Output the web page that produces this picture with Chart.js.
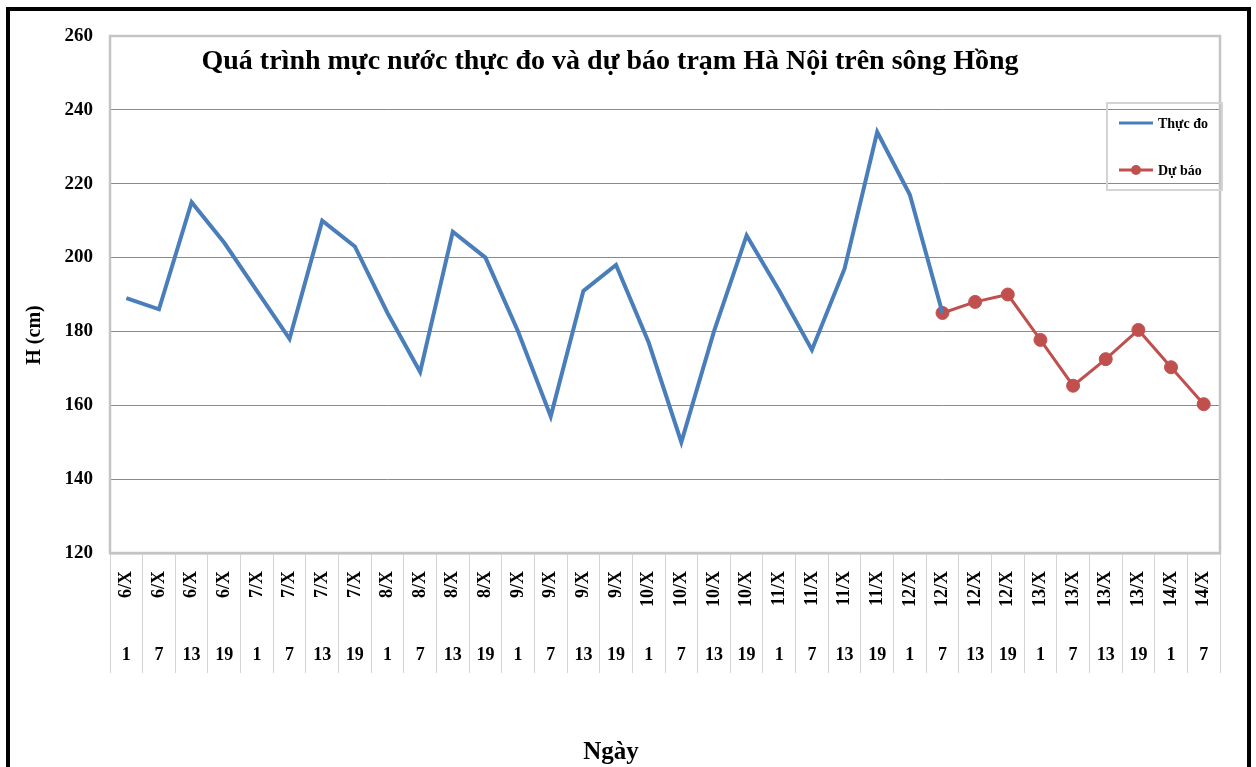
<!DOCTYPE html>
<html>
<head>
<meta charset="utf-8">
<script src="https://cdn.jsdelivr.net/npm/chart.js@4.4.1/dist/chart.umd.min.js"></script>
<style>
  html, body { margin:0; padding:0; background:#fff; }
  body { width:1256px; height:767px; position:relative; overflow:hidden; }
  #frame { position:absolute; left:6px; top:7px; width:1237px; height:800px; border:4px solid #000; box-sizing:content-box; }
  canvas#c { position:absolute; left:0; top:0; }
  .t { position:absolute; font-family:"Liberation Serif","Times New Roman",serif; font-weight:bold; color:#000; white-space:nowrap; }
  #title { left:610px; top:60px; transform:translate(-50%,-50%); font-size:28px; }
  #ytitle { left:33px; top:335px; transform:translate(-50%,-50%) rotate(-90deg); font-size:20px; }
  #xtitle { left:611px; top:751px; transform:translate(-50%,-50%); font-size:25px; }
</style>
</head>
<body>
<canvas id="c" width="1256" height="767"></canvas>
<div id="frame"></div>
<div class="t" id="title">Quá trình mực nước thực đo và dự báo trạm Hà Nội trên sông Hồng</div>
<div class="t" id="ytitle">H (cm)</div>
<div class="t" id="xtitle">Ngày</div>
<script>
const dates = ['6/X','6/X','6/X','6/X','7/X','7/X','7/X','7/X','8/X','8/X','8/X','8/X',
  '9/X','9/X','9/X','9/X','10/X','10/X','10/X','10/X','11/X','11/X','11/X','11/X',
  '12/X','12/X','12/X','12/X','13/X','13/X','13/X','13/X','14/X','14/X'];
const hours = ['1','7','13','19','1','7','13','19','1','7','13','19','1','7','13','19',
  '1','7','13','19','1','7','13','19','1','7','13','19','1','7','13','19','1','7'];
const thucDo = [189,186,215,204,191,178,210,203,185,169,207,200,180,157,191,198,
  177,150,180,206,191,175,197,234,217,185,null,null,null,null,null,null,null,null];
const duBao = [null,null,null,null,null,null,null,null,null,null,null,null,null,null,null,null,
  null,null,null,null,null,null,null,null,null,185,188,190,177.7,165.3,172.5,180.4,170.3,160.3];
const yTicks = [120,140,160,180,200,220,240,260];

const FONT = '"Liberation Serif","Times New Roman",serif';

const plotFrame = {
  id: 'plotFrame',
  beforeDatasetsDraw(chart) {
    const {ctx, chartArea: a} = chart;
    ctx.save();
    ctx.strokeStyle = '#c4c4c4';
    ctx.lineWidth = 2.5;
    ctx.strokeRect(a.left, a.top, a.right - a.left, a.bottom - a.top);
    ctx.restore();
  }
};

const boxLegend = {
  id: 'boxLegend',
  afterDraw(chart) {
    const {ctx, chartArea: a} = chart;
    const left = a.right - 113, top = a.top + 67, w = 115, h = 87;
    ctx.save();
    ctx.strokeStyle = '#d4d4d4';
    ctx.lineWidth = 2;
    ctx.strokeRect(left, top, w, h);
    const rows = [top + 20, top + 67];
    chart.data.datasets.forEach((ds, i) => {
      const y = rows[i];
      ctx.strokeStyle = ds.borderColor;
      ctx.lineWidth = 3;
      ctx.beginPath(); ctx.moveTo(left + 12, y); ctx.lineTo(left + 46, y); ctx.stroke();
      if (ds.pointRadius > 0) {
        ctx.fillStyle = ds.pointBackgroundColor;
        ctx.beginPath(); ctx.arc(left + 29, y, 5, 0, Math.PI * 2); ctx.fill();
      }
      ctx.fillStyle = '#000';
      ctx.font = 'bold 14px ' + FONT;
      ctx.textBaseline = 'middle';
      ctx.textAlign = 'left';
      ctx.fillText(ds.label, left + 51, y + 1);
    });
    ctx.restore();
  }
};

new Chart(document.getElementById('c'), {
  type: 'line',
  data: {
    labels: dates,
    datasets: [
      { label: 'Thực đo', data: thucDo, borderColor: '#4A7EBB', backgroundColor: '#4A7EBB',
        borderWidth: 4, pointRadius: 0, pointHoverRadius: 0, tension: 0, spanGaps: false,
        xAxisID: 'x', yAxisID: 'y' },
      { label: 'Dự báo', data: duBao, borderColor: '#C0504D', backgroundColor: '#C0504D',
        pointBackgroundColor: '#C0504D', pointBorderColor: '#C0504D',
        borderWidth: 3, pointRadius: 6.5, pointBorderWidth: 1, tension: 0,
        xAxisID: 'x', yAxisID: 'y' }
    ]
  },
  options: {
    responsive: false,
    animation: false,
    events: [],
    layout: { padding: { top: 36, right: 36, left: 0, bottom: 0 } },
    plugins: { legend: { display: false }, title: { display: false }, tooltip: { enabled: false } },
    scales: {
      y: {
        min: 120, max: 260,
        afterBuildTicks: s => { s.ticks = yTicks.map(v => ({ value: v })); },
        afterFit: s => { s.width = 110; },
        grid: { color: '#8a8a8a', lineWidth: 1, drawTicks: false },
        border: { display: false },
        ticks: { color: '#000', padding: 17, font: { family: FONT, size: 19, weight: 'bold' } }
      },
      x: {
        type: 'category', labels: dates, position: 'bottom', offset: true, weight: 0,
        afterFit: s => { s.height = 80; },
        grid: { offset: true, drawOnChartArea: false, drawTicks: true, tickLength: 80, color: '#d4d4d4', lineWidth: 1 },
        border: { display: true, color: '#c4c4c4', width: 2.5 },
        ticks: { autoSkip: false, minRotation: 90, maxRotation: 90, padding: -62, color: '#000',
          font: { family: FONT, size: 18, weight: 'bold' } }
      },
      x2: {
        type: 'category', labels: hours, position: 'bottom', offset: true, weight: 1,
        afterFit: s => { s.height = 134; },
        grid: { offset: true, drawOnChartArea: false, drawTicks: true, tickLength: 40, color: '#d4d4d4', lineWidth: 1 },
        border: { display: false },
        ticks: { autoSkip: false, minRotation: 0, maxRotation: 0, padding: -28.5, color: '#000',
          font: { family: FONT, size: 18, weight: 'bold' } }
      }
    }
  },
  plugins: [plotFrame, boxLegend]
});
</script>
</body>
</html>
